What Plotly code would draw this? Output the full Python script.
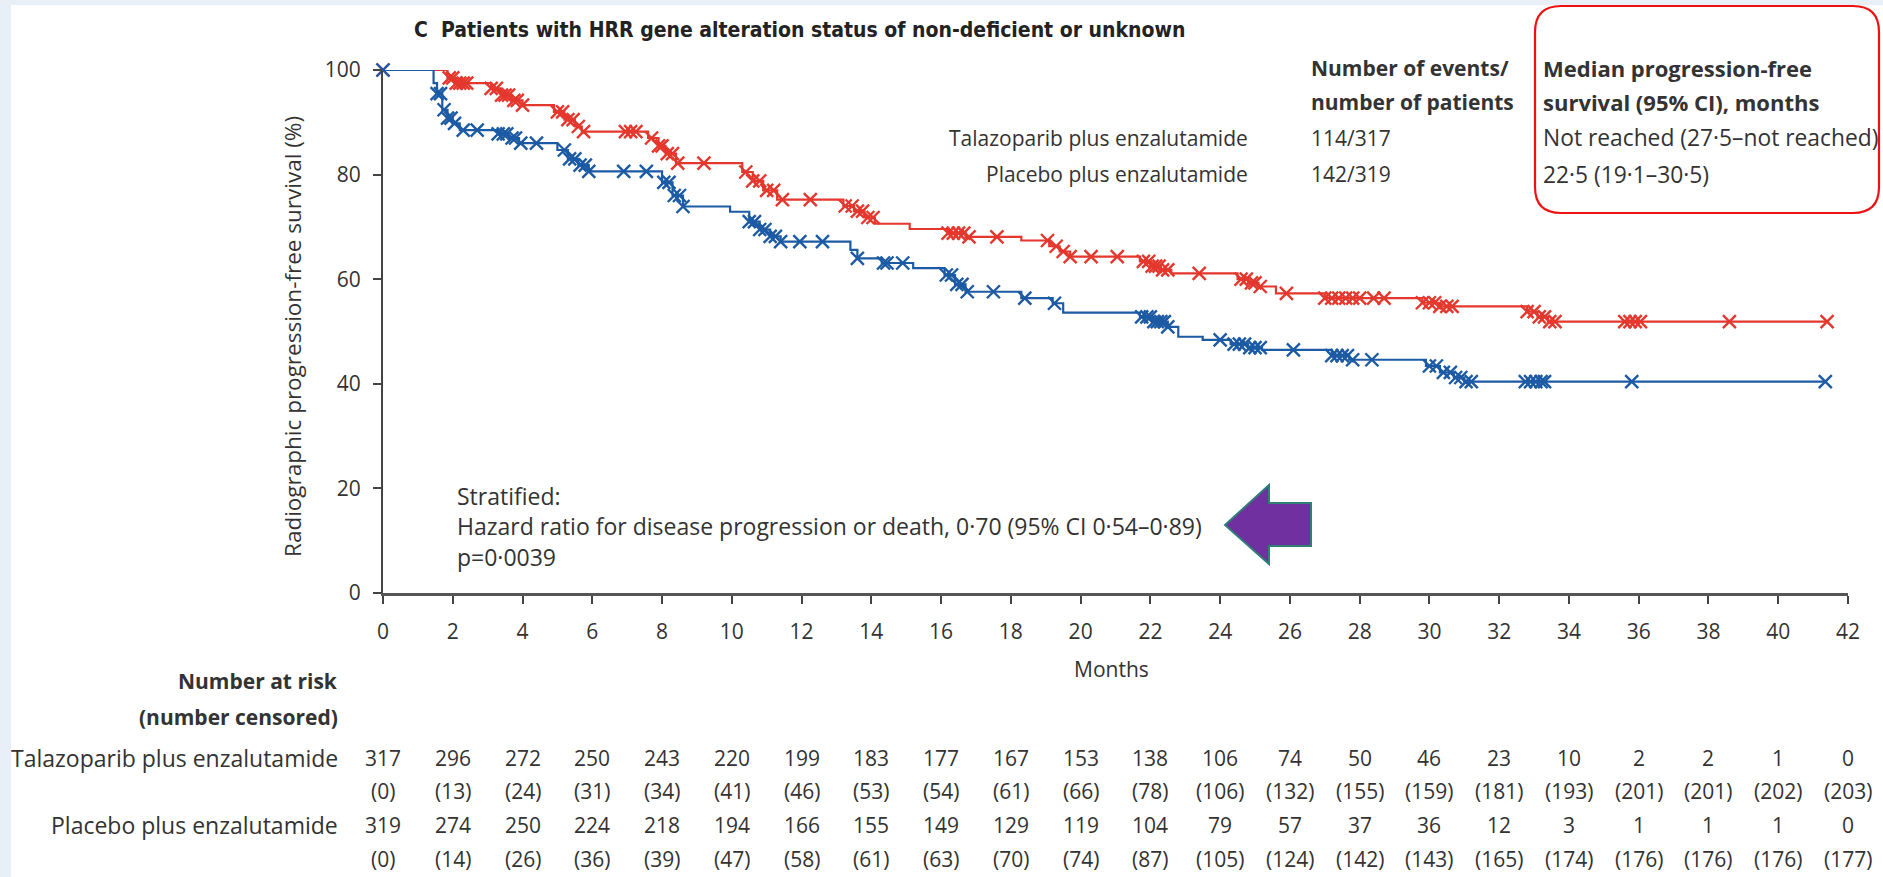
import numpy as np
import plotly.graph_objects as go

# ---------------- data ----------------
months_ticks = list(range(0, 43, 2))
y_ticks = [0, 20, 40, 60, 80, 100]

# Talazoparib plus enzalutamide (red) - KM steps
tal_times = [0, 1.85, 2.1, 3.1, 3.4, 3.7, 4.0, 4.9, 5.2, 5.5, 5.7, 7.6, 7.9, 8.1, 8.4,
             10.3, 10.6, 10.9, 11.3, 13.2, 13.5, 13.8, 14.1, 15.1, 16.2, 16.7, 18.3,
             19.1, 19.4, 19.7, 21.7, 22.0, 22.3, 22.6, 24.5, 24.8, 25.1, 25.6, 27.0,
             29.8, 30.3, 32.8, 33.1, 33.4]
tal_surv = [100, 98.5, 97.5, 96.5, 95.2, 94.2, 93.3, 92.0, 90.5, 89.2, 88.2, 87.0, 85.5,
            84.0, 82.2, 80.5, 78.8, 77.0, 75.2, 74.0, 73.0, 71.8, 70.6, 69.6, 68.8, 68.1,
            67.4, 66.3, 65.3, 64.3, 63.4, 62.5, 61.8, 61.1, 60.0, 59.3, 58.6, 57.3, 56.4,
            55.5, 54.8, 53.8, 52.8, 51.9]
tal_end = 41.45
tal_censor = [0, 1.9, 2.0, 2.1, 2.2, 2.3, 2.4, 3.1, 3.25, 3.4, 3.5, 3.6, 3.75, 3.85, 4.0,
              5.0, 5.15, 5.3, 5.45, 5.6, 5.75, 6.95, 7.1, 7.25, 7.7, 7.9, 8.0, 8.15, 8.3,
              8.45, 9.2, 10.4, 10.6, 10.8, 11.0, 11.2, 11.45, 12.25, 13.25, 13.45, 13.6,
              13.75, 13.9, 14.05, 16.2, 16.35, 16.5, 16.65, 16.8, 17.6, 19.05, 19.3, 19.5,
              19.7, 20.3, 21.05, 21.8, 21.95, 22.05, 22.15, 22.25, 22.35, 22.5, 23.4,
              24.6, 24.75, 24.9, 25.0, 25.15, 25.9, 27.0, 27.2, 27.4, 27.6, 27.8, 28.0,
              28.4, 28.7, 29.8, 30.0, 30.15, 30.3, 30.5, 30.65, 32.8, 33.0, 33.15, 33.3,
              33.45, 33.6, 35.6, 35.75, 35.9, 36.05, 38.6, 41.4]

# Placebo plus enzalutamide (blue) - KM steps
pla_times = [0, 1.45, 1.55, 1.7, 1.85, 2.0, 2.2, 3.3, 3.6, 3.9, 5.0, 5.3, 5.6, 5.9, 8.0,
             8.3, 8.6, 9.95, 10.5, 10.8, 11.1, 11.4, 13.4, 13.6, 14.3, 15.2, 16.1, 16.4,
             16.7, 18.3, 19.2, 19.5, 21.7, 22.1, 22.5, 22.8, 23.5, 24.3, 24.8, 25.2,
             27.2, 27.7, 29.9, 30.3, 30.7, 31.0]
pla_surv = [100, 97.5, 95.5, 92.4, 90.8, 89.8, 88.5, 87.8, 87.0, 86.0, 84.7, 83.0, 81.8,
            80.6, 78.5, 76.0, 73.9, 72.9, 71.0, 69.5, 68.2, 67.2, 65.6, 64.0, 63.1, 62.1,
            60.8, 59.0, 57.6, 56.4, 55.4, 53.6, 52.8, 51.9, 50.9, 49.0, 48.4, 47.6, 46.9,
            46.5, 45.4, 44.6, 43.4, 42.2, 41.2, 40.4]
pla_end = 41.4
pla_censor = [0, 1.55, 1.65, 1.75, 1.85, 1.95, 2.05, 2.3, 2.7, 3.3, 3.45, 3.55, 3.7, 3.8,
              3.95, 4.4, 5.2, 5.35, 5.5, 5.65, 5.8, 5.9, 6.9, 7.55, 8.05, 8.2, 8.35, 8.5,
              8.6, 10.5, 10.65, 10.8, 10.95, 11.1, 11.25, 11.4, 11.95, 12.6, 13.6, 14.35,
              14.45, 14.9, 16.15, 16.3, 16.45, 16.6, 16.75, 17.5, 18.4, 19.25, 21.75,
              21.9, 22.0, 22.1, 22.2, 22.3, 22.4, 22.5, 24.0, 24.4, 24.55, 24.7, 24.85,
              25.0, 25.15, 26.1, 27.2, 27.35, 27.5, 27.65, 27.8, 28.35, 30.0, 30.2, 30.4,
              30.6, 30.75, 30.9, 31.05, 31.2, 32.75, 32.9, 33.05, 33.2, 33.3, 35.8, 41.35]

# number at risk (number censored)
tal_risk = [317, 296, 272, 250, 243, 220, 199, 183, 177, 167, 153, 138, 106, 74, 50, 46, 23, 10, 2, 2, 1, 0]
tal_cens = [0, 13, 24, 31, 34, 41, 46, 53, 54, 61, 66, 78, 106, 132, 155, 159, 181, 193, 201, 201, 202, 203]
pla_risk = [319, 274, 250, 224, 218, 194, 166, 155, 149, 129, 119, 104, 79, 57, 37, 36, 12, 3, 1, 1, 1, 0]
pla_cens = [0, 14, 26, 36, 39, 47, 58, 61, 63, 70, 74, 87, 105, 124, 142, 143, 165, 174, 176, 176, 176, 177]

arm_names = ["Talazoparib plus enzalutamide", "Placebo plus enzalutamide"]
events = ["114/317", "142/319"]
medians = ["Not reached (27·5–not reached)", "22·5 (19·1–30·5)"]

# ---------------- layout helpers ----------------
W, H = 1883, 877
ML, MR, MT, MB = 383, 35, 70, 284
PW = W - ML - MR
PH = H - MT - MB


def fx(px):
    return (px - ML) / PW


def fy(py):
    return (H - MB - py) / PH


RED = "#e4372d"
BLUE = "#1c5aa4"
TXT = "#333333"
FONT = "Open Sans, Noto Sans, sans-serif"
NARROW = "Liberation Sans Narrow, DejaVu Sans Condensed, sans-serif"


def step_val(t, times, surv):
    idx = np.searchsorted(np.array(times), t, side="right") - 1
    return np.array(surv)[idx]


fig = go.Figure()

for times, surv, end, cens, col, name in [
    (tal_times, tal_surv, tal_end, tal_censor, RED, arm_names[0]),
    (pla_times, pla_surv, pla_end, pla_censor, BLUE, arm_names[1]),
]:
    fig.add_trace(go.Scatter(
        x=list(times) + [end], y=list(surv) + [surv[-1]],
        mode="lines", line=dict(color=col, width=2.2, shape="hv"),
        name=name, showlegend=False, cliponaxis=False, hoverinfo="skip"))
    fig.add_trace(go.Scatter(
        x=cens, y=step_val(cens, times, surv), mode="markers",
        marker=dict(symbol="x-thin", size=13, line=dict(color=col, width=2.4)),
        showlegend=False, cliponaxis=False, hoverinfo="skip"))

ann = []


def add_text(text, px, py, xanchor="left", size=21, color=TXT, family=FONT, **kw):
    ann.append(dict(text=text, x=fx(px), y=fy(py), xref="paper", yref="paper",
                    xanchor=xanchor, yanchor="middle", showarrow=False,
                    font=dict(size=size, color=color, family=family), **kw))


# title
add_text("<b>C  Patients with HRR gene alteration status of non-deficient or unknown</b>",
         412, 30, size=21, color="#222222", family=NARROW)

# legend block
add_text("<b>Number of events/</b>", 1309, 68, size=21)
add_text("<b>number of patients</b>", 1309, 102, size=21)
add_text("<b>Median progression-free</b>", 1541, 68, size=22)
add_text("<b>survival (95% CI), months</b>", 1541, 102, size=22)
for i, yy in enumerate([138, 174]):
    add_text(arm_names[i], 1250, yy, xanchor="right")
    add_text(events[i], 1309, yy)
    add_text(medians[i], 1541, yy, size=22.8)

# stratified text
add_text("Stratified:", 455, 496, size=23)
add_text("Hazard ratio for disease progression or death, 0·70 (95% CI 0·54–0·89)", 455, 526, size=23)
add_text("p=0·0039", 455, 557, size=23)

# axis titles
add_text("Radiographic progression-free survival (%)", 292, 337, xanchor="center", size=22.5, textangle=-90)
add_text("Months", 1111, 669, xanchor="center", size=21)

# number at risk table
add_text("<b>Number at risk</b>", 340, 681, xanchor="right", size=21)
add_text("<b>(number censored)</b>", 340, 717, xanchor="right", size=21)
add_text(arm_names[0], 340, 758, xanchor="right", size=23)
add_text(arm_names[1], 340, 825, xanchor="right", size=23)
for rows, ypix in [(tal_risk, 758), (["(%d)" % c for c in tal_cens], 791),
                   (pla_risk, 825), (["(%d)" % c for c in pla_cens], 859)]:
    for m, v in zip(months_ticks, rows):
        ann.append(dict(text=str(v), x=m, y=fy(ypix), xref="x", yref="paper",
                        xanchor="center", yanchor="middle", showarrow=False,
                        font=dict(size=21, color=TXT, family=FONT)))

# shapes
shapes = []
shapes.append(dict(type="rect", xref="paper", yref="paper", x0=fx(11), x1=fx(W + 5),
                   y0=fy(H + 5), y1=fy(5), fillcolor="white", line=dict(width=0), layer="below"))


def path_from(points, close=True):
    out = []
    for cmd, pts in points:
        coords = " ".join("%.5f,%.5f" % (fx(a), fy(b)) for a, b in pts)
        out.append(cmd + coords)
    return " ".join(out) + (" Z" if close else "")


x0, x1, y0, y1, r = 1535, 1879, 6, 213, 26
rr = path_from([
    ("M", [(x0 + r, y0)]), ("L", [(x1 - r, y0)]), ("Q", [(x1, y0), (x1, y0 + r)]),
    ("L", [(x1, y1 - r)]), ("Q", [(x1, y1), (x1 - r, y1)]), ("L", [(x0 + r, y1)]),
    ("Q", [(x0, y1), (x0, y1 - r)]), ("L", [(x0, y0 + r)]), ("Q", [(x0, y0), (x0 + r, y0)]),
])
shapes.append(dict(type="path", xref="paper", yref="paper", path=rr,
                   line=dict(color="#ee1111", width=2.2), fillcolor="rgba(0,0,0,0)"))

arrow = path_from([
    ("M", [(1225, 525)]), ("L", [(1269, 485)]), ("L", [(1269, 503)]), ("L", [(1311, 503)]),
    ("L", [(1311, 546)]), ("L", [(1269, 546)]), ("L", [(1269, 564)]),
])
shapes.append(dict(type="path", xref="paper", yref="paper", path=arrow,
                   line=dict(color="#2f7e78", width=2), fillcolor="#7030a0"))

fig.update_layout(
    width=W, height=H,
    margin=dict(l=ML, r=MR, t=MT, b=MB, autoexpand=False),
    paper_bgcolor="#e8eff6", plot_bgcolor="white",
    annotations=ann, shapes=shapes,
    font=dict(family=FONT, color=TXT, size=21),
)
fig.update_xaxes(range=[0, 42], tickvals=months_ticks, ticks="outside", ticklen=8,
                 tickwidth=1.5, tickcolor="#444", showline=True, linecolor="#555",
                 linewidth=2.5, showgrid=False, zeroline=False, ticklabelstandoff=10,
                 tickfont=dict(size=21, color=TXT, family=FONT))
fig.update_yaxes(range=[0, 100], tickvals=y_ticks, ticks="outside", ticklen=8,
                 tickwidth=1.5, tickcolor="#444", showline=True, linecolor="#444",
                 linewidth=2, showgrid=False, zeroline=False, ticklabelstandoff=8,
                 tickfont=dict(size=21, color=TXT, family=FONT))

fig.write_html(
    "out.html",
    config={"displayModeBar": False},
    post_script="document.body.style.margin='0';document.body.style.padding='0';"
                "document.body.style.overflow='hidden';",
)
